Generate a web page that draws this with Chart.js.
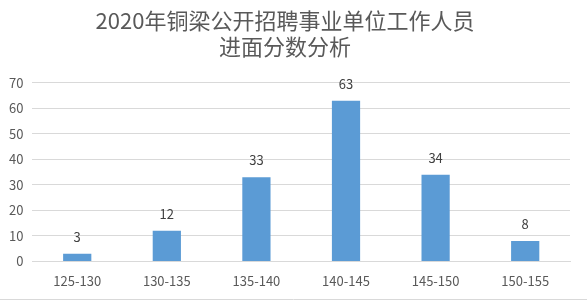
<!DOCTYPE html>
<html>
<head>
<meta charset="utf-8">
<script src="https://cdn.jsdelivr.net/npm/chart.js@4/dist/chart.umd.min.js"></script>
<style>
	html, body { margin: 0; padding: 0; background: #fff; }
	#wrap { width: 587px; height: 301px; position: relative; }
</style>
</head>
<body>
<div id="wrap"><canvas id="chart"></canvas></div>
<script>
// data
const ranges = ['125-130', '130-135', '135-140', '140-145', '145-150', '150-155'];
const counts = [3, 12, 33, 63, 34, 8];
const titleLines = ['2020年铜梁公开招聘事业单位工作人员', '进面分数分析'];

const FONT = "'Noto Sans CJK SC', 'Noto Sans', sans-serif";

// value labels over the bars
const barLabels = {
	id: 'barLabels',
	afterDatasetsDraw(chart) {
		const ctx = chart.ctx;
		const meta = chart.getDatasetMeta(0);
		ctx.save();
		ctx.font = '13px ' + FONT;
		ctx.fillStyle = '#404040';
		ctx.textAlign = 'center';
		ctx.textBaseline = 'middle';
		meta.data.forEach(function (bar, i) {
			ctx.fillText(counts[i], bar.x, bar.y - 17);
		});
		ctx.restore();
	}
};

// thin grey rule along the bottom edge
const bottomRule = {
	id: 'bottomRule',
	afterDraw(chart) {
		const ctx = chart.ctx;
		ctx.save();
		ctx.strokeStyle = '#d9d9d9';
		ctx.lineWidth = 1;
		ctx.beginPath();
		ctx.moveTo(0, chart.height - 1.5);
		ctx.lineTo(chart.width, chart.height - 1.5);
		ctx.stroke();
		ctx.restore();
	}
};

new Chart(document.getElementById('chart'), {
	type: 'bar',
	plugins: [barLabels, bottomRule],
	data: {
		labels: ranges,
		datasets: [{
			label: '人数',
			data: counts,
			backgroundColor: '#5b9bd5',
			borderWidth: 0,
			barPercentage: 0.63,
			categoryPercentage: 0.5
		}]
	},
	options: {
		responsive: true,
		maintainAspectRatio: false,
		animation: false,
		layout: { padding: { top: 0, left: 0, right: 17, bottom: 0 } },
		plugins: {
			legend: { display: false },
			tooltip: { enabled: false },
			title: {
				display: true,
				text: titleLines,
				color: '#595959',
				font: { family: FONT, size: 22, weight: 'normal', lineHeight: 1.2 },
				padding: { top: 7, bottom: 23 }
			}
		},
		scales: {
			x: {
				grid: { display: false, drawTicks: false },
				border: { display: true, color: '#d9d9d9' },
				ticks: { color: '#595959', font: { family: FONT, size: 13 }, padding: 12 }
			},
			y: {
				min: 0,
				max: 70,
				grid: { color: '#d9d9d9', drawTicks: false },
				border: { display: false },
				ticks: { stepSize: 10, color: '#595959', font: { family: FONT, size: 13 }, padding: 9 }
			}
		}
	}
});
</script>
</body>
</html>
